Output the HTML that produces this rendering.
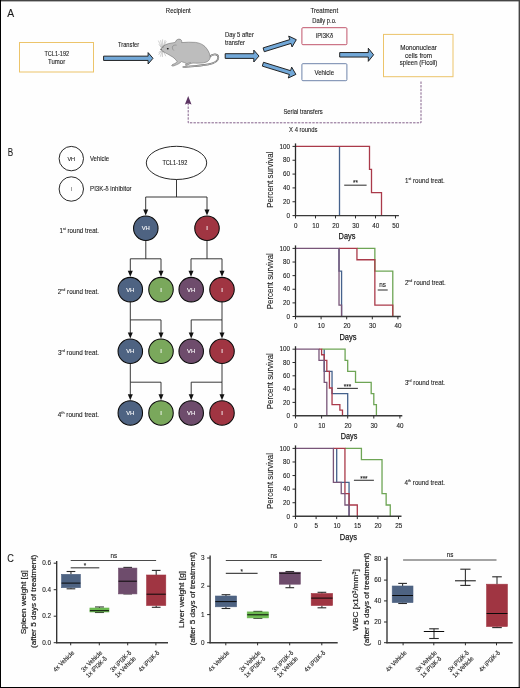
<!DOCTYPE html>
<html><head><meta charset="utf-8"><title>Figure</title>
<style>
html,body{margin:0;padding:0;background:#fefefe;}
body{width:520px;height:688px;overflow:hidden;position:relative;}
svg{position:absolute;left:0;top:0;display:block;will-change:transform;}
text{font-family:"Liberation Sans", sans-serif;stroke-width:0.1px;}
</style></head>
<body>
<svg width="520" height="688" viewBox="0 0 520 688" font-family="Liberation Sans, sans-serif">
<rect x="0" y="0" width="520" height="688" fill="#fefefe"/>
<text x="7.20" y="17.00" font-size="11.5" text-anchor="start" fill="#1a1a1a" textLength="6.90" lengthAdjust="spacingAndGlyphs"  stroke="#1a1a1a">A</text>
<rect x="19.5" y="42.5" width="74" height="29.5" fill="none" stroke="#ecc46a" stroke-width="1"/>
<text x="44.40" y="55.80" font-size="6.3" text-anchor="start" fill="#1a1a1a" textLength="24.70" lengthAdjust="spacingAndGlyphs"  stroke="#1a1a1a">TCL1-192</text>
<text x="48.10" y="63.50" font-size="6.3" text-anchor="start" fill="#1a1a1a" textLength="17.10" lengthAdjust="spacingAndGlyphs"  stroke="#1a1a1a">Tumor</text>
<text x="165.80" y="12.60" font-size="6.6" text-anchor="start" fill="#1a1a1a" textLength="25.00" lengthAdjust="spacingAndGlyphs"  stroke="#1a1a1a">Recipient</text>
<text x="118.00" y="46.60" font-size="6.6" text-anchor="start" fill="#1a1a1a" textLength="21.10" lengthAdjust="spacingAndGlyphs"  stroke="#1a1a1a">Transfer</text>
<text x="224.90" y="37.00" font-size="6.6" text-anchor="start" fill="#1a1a1a" textLength="29.00" lengthAdjust="spacingAndGlyphs"  stroke="#1a1a1a">Day 5 after</text>
<text x="224.90" y="45.00" font-size="6.6" text-anchor="start" fill="#1a1a1a" textLength="20.00" lengthAdjust="spacingAndGlyphs"  stroke="#1a1a1a">transfer</text>
<text x="310.40" y="12.80" font-size="6.6" text-anchor="start" fill="#1a1a1a" textLength="27.70" lengthAdjust="spacingAndGlyphs"  stroke="#1a1a1a">Treatment</text>
<text x="312.30" y="22.80" font-size="6.6" text-anchor="start" fill="#1a1a1a" textLength="24.20" lengthAdjust="spacingAndGlyphs"  stroke="#1a1a1a">Daily p.o.</text>
<path d="M103.6,56.15 L148.1,56.15 L148.1,52.599999999999994 L153.0,58.3 L148.1,64.0 L148.1,60.449999999999996 L103.6,60.449999999999996 Z" stroke="#1a1a1a" fill="#72a8d8" stroke-width="0.95" stroke-linejoin="miter"/>
<path d="M225.2,53.699999999999996 L253.8,53.699999999999996 L253.8,50.099999999999994 L259.0,56.05 L253.8,62.0 L253.8,58.4 L225.2,58.4 Z" stroke="#1a1a1a" fill="#72a8d8" stroke-width="0.95" stroke-linejoin="miter"/>
<path d="M339.7,52.55 L368.3,52.55 L368.3,48.25 L373.6,54.8 L368.3,61.349999999999994 L368.3,57.05 L339.7,57.05 Z" stroke="#1a1a1a" fill="#72a8d8" stroke-width="0.95" stroke-linejoin="miter"/>
<path d="M263.11,47.89 L289.79,39.62 L288.69,36.09 L296.30,39.70 L292.06,46.98 L290.97,43.45 L264.29,51.71 Z" stroke="#1a1a1a" fill="#72a8d8" stroke-width="0.95" />
<path d="M263.49,62.29 L290.57,70.66 L291.66,67.12 L295.90,74.40 L288.29,78.01 L289.39,74.48 L262.31,66.11 Z" stroke="#1a1a1a" fill="#72a8d8" stroke-width="0.95" />
<rect x="301.9" y="27.7" width="45" height="17" rx="1" fill="none" stroke="#c0566c" stroke-width="1"/>
<text x="315.90" y="38.30" font-size="6.3" text-anchor="start" fill="#1a1a1a" textLength="17.30" lengthAdjust="spacingAndGlyphs"  stroke="#1a1a1a">iPI3K&#948;</text>
<rect x="301.9" y="63.7" width="45" height="17" rx="1" fill="none" stroke="#6f84aa" stroke-width="1"/>
<text x="314.40" y="74.70" font-size="6.3" text-anchor="start" fill="#1a1a1a" textLength="19.70" lengthAdjust="spacingAndGlyphs"  stroke="#1a1a1a">Vehicle</text>
<rect x="383.5" y="34.4" width="69.5" height="42.3" fill="none" stroke="#ecc46a" stroke-width="1"/>
<text x="400.30" y="49.80" font-size="6.3" text-anchor="start" fill="#1a1a1a" textLength="36.50" lengthAdjust="spacingAndGlyphs"  stroke="#1a1a1a">Mononuclear</text>
<text x="405.10" y="57.50" font-size="6.3" text-anchor="start" fill="#1a1a1a" textLength="26.90" lengthAdjust="spacingAndGlyphs"  stroke="#1a1a1a">cells from</text>
<text x="399.80" y="64.80" font-size="6.3" text-anchor="start" fill="#1a1a1a" textLength="37.50" lengthAdjust="spacingAndGlyphs"  stroke="#1a1a1a">spleen (Ficoll)</text>
<path d="M421,81.5 L421,122.8 L188.2,122.8 L188.2,103" stroke="#83608a" fill="none" stroke-width="1.0" stroke-dasharray="2.4,1.2"/>
<path d="M188.2,96 L191.5,104.6 L188.2,103.2 L184.9,104.6 Z" stroke="none" fill="#5c3462" stroke-width="1" />
<text x="283.40" y="113.50" font-size="6.6" text-anchor="start" fill="#1a1a1a" textLength="39.40" lengthAdjust="spacingAndGlyphs"  stroke="#1a1a1a">Serial transfers</text>
<text x="289.10" y="131.90" font-size="6.6" text-anchor="start" fill="#1a1a1a" textLength="28.40" lengthAdjust="spacingAndGlyphs"  stroke="#1a1a1a">X 4 rounds</text>
<path d="M209.5,57 C213,53.2 218.4,53.6 218.3,57.8 C218.2,61.3 213.5,63.4 208.5,64.4 C201,65.8 192,66.3 183.3,67" fill="none" stroke="#6a6a6a" stroke-width="1.7" stroke-linecap="round"/>
<path d="M209.5,57 C213,53.2 218.4,53.6 218.3,57.8 C218.2,61.3 213.5,63.4 208.5,64.4 C201,65.8 192,66.3 183.3,67" fill="none" stroke="#bdbdbd" stroke-width="0.9" stroke-linecap="round"/>
<path d="M160.8,49.2 C162,47 165,44.3 168.7,43.6 C171,43.1 173.5,42.6 175.2,42.4 C176,39.6 178.5,38.6 180.2,39.3 C181.6,39.9 182,41.2 181.6,42.6 C186,42.1 191,42.0 195.5,42.4 C199.5,42.9 202.5,44.2 205,46.6 C207.5,49.2 209.6,52.8 210.2,56.2 C210.4,59.4 208.4,62 203.5,62.8 C200,63.3 196,63.3 193,63.1 C192,63.3 191.5,63.4 191,63.4 C190,63.8 189,64.2 188.2,64.7 C187.2,65.3 186.2,65.6 185.5,65.3 C185,64.9 185.6,64.3 186.5,63.8 L184.5,62.6 C183.3,62.2 182,62 181.4,61.6 C180.5,62.4 179.8,63.1 178.6,63.8 C177,64.6 175.6,65.2 174,65.8 C172.8,66.2 171.6,66.1 171.7,65.4 C171.9,64.7 173,64.2 174.3,63.8 C175.6,63.2 176.5,62.4 177.2,61.6 C176,59.8 174.5,58.3 173,57.2 C170.5,55.6 167.5,54 165,52.6 C163,51.6 161.2,50.6 160.8,49.2 Z" fill="#bdbdbd" stroke="#5e5e5e" stroke-width="0.5" stroke-linejoin="round"/>
<path d="M176.6,45.2 C174.6,44.6 172.6,45.4 172.4,47.2 C172.3,48.6 173,49.8 173.8,50.5" fill="none" stroke="#6e6e6e" stroke-width="0.45"/>
<path d="M186.5,63.8 C188,63.2 189.5,62.6 191,62.4" fill="none" stroke="#6e6e6e" stroke-width="0.4"/>
<ellipse cx="167.8" cy="48.7" rx="0.95" ry="0.8" fill="#111"/>
<circle cx="161" cy="49.3" r="0.55" fill="#333"/>
<g stroke="#7a7a7a" stroke-width="0.35" fill="none">
<path d="M161.8,47.6 L158.3,40.6 M162.2,47.6 L160.6,40.2 M162.6,47.6 L162.6,39.4 M162.9,47.8 L165.2,40 M161.6,48 L158.9,44.3 M162.8,48 L166.3,41.2"/>
<path d="M161.8,50.6 L158.6,54.8 M162.2,50.8 L160.4,56.6 M162.7,50.8 L162.4,57 M163.1,50.8 L165.8,56.2 M161.6,50.4 L158.6,52.6"/>
</g>
<text x="7.80" y="155.80" font-size="10.8" text-anchor="start" fill="#1a1a1a" textLength="5.40" lengthAdjust="spacingAndGlyphs"  stroke="#1a1a1a">B</text>
<circle cx="71.3" cy="158.6" r="12.2" fill="#fff" stroke="#111" stroke-width="0.9"/>
<text x="67.40" y="160.70" font-size="6.2" text-anchor="start" fill="#1a1a1a" textLength="7.70" lengthAdjust="spacingAndGlyphs"  stroke="#1a1a1a">VH</text>
<circle cx="71.3" cy="189.0" r="12.2" fill="#fff" stroke="#111" stroke-width="0.9"/>
<text x="70.90" y="191.00" font-size="6.2" text-anchor="start" fill="#1a1a1a" textLength="1.00" lengthAdjust="spacingAndGlyphs"  stroke="#1a1a1a">I</text>
<text x="89.90" y="160.60" font-size="6.6" text-anchor="start" fill="#1a1a1a" textLength="19.20" lengthAdjust="spacingAndGlyphs"  stroke="#1a1a1a">Vehicle</text>
<text x="90.10" y="190.80" font-size="6.6" text-anchor="start" fill="#1a1a1a" textLength="41.50" lengthAdjust="spacingAndGlyphs"  stroke="#1a1a1a">PI3K-&#948; inhibitor</text>
<ellipse cx="176.5" cy="162.9" rx="30.2" ry="16.6" fill="#fff" stroke="#111" stroke-width="0.9"/>
<text x="162.40" y="164.80" font-size="6.4" text-anchor="start" fill="#1a1a1a" textLength="24.90" lengthAdjust="spacingAndGlyphs"  stroke="#1a1a1a">TCL1-192</text>
<line x1="176.50" y1="179.50" x2="176.50" y2="197.00" stroke="#222" stroke-width="0.9" />
<line x1="145.70" y1="197.00" x2="207.00" y2="197.00" stroke="#222" stroke-width="0.9" />
<line x1="145.70" y1="197.00" x2="145.70" y2="210.50" stroke="#222" stroke-width="0.9" />
<path d="M143.2,209.5 L148.2,209.5 L145.7,215.5 Z" stroke="none" fill="#111" stroke-width="1" />
<line x1="207.00" y1="197.00" x2="207.00" y2="210.50" stroke="#222" stroke-width="0.9" />
<path d="M204.5,209.5 L209.5,209.5 L207.0,215.5 Z" stroke="none" fill="#111" stroke-width="1" />
<circle cx="145.8" cy="228.3" r="12.25" fill="#4e6382" stroke="#0a0a0a" stroke-width="1.05"/>
<text x="141.70" y="230.30" font-size="6.0" text-anchor="start" fill="#fff" textLength="8.20" lengthAdjust="spacingAndGlyphs"  stroke="#fff">VH</text>
<circle cx="207.0" cy="228.3" r="12.25" fill="#a03542" stroke="#0a0a0a" stroke-width="1.05"/>
<text x="207.00" y="230.30" font-size="6.0" text-anchor="middle" fill="#fff"  stroke="#fff">I</text>
<line x1="145.80" y1="240.60" x2="145.80" y2="258.80" stroke="#222" stroke-width="0.9" />
<line x1="130.30" y1="258.80" x2="161.00" y2="258.80" stroke="#222" stroke-width="0.9" />
<line x1="207.00" y1="240.60" x2="207.00" y2="258.80" stroke="#222" stroke-width="0.9" />
<line x1="191.00" y1="258.80" x2="222.00" y2="258.80" stroke="#222" stroke-width="0.9" />
<line x1="130.30" y1="258.80" x2="130.30" y2="271.80" stroke="#222" stroke-width="0.9" />
<path d="M127.80000000000001,270.8 L132.8,270.8 L130.3,276.8 Z" stroke="none" fill="#111" stroke-width="1" />
<line x1="161.00" y1="258.80" x2="161.00" y2="271.80" stroke="#222" stroke-width="0.9" />
<path d="M158.5,270.8 L163.5,270.8 L161.0,276.8 Z" stroke="none" fill="#111" stroke-width="1" />
<line x1="191.00" y1="258.80" x2="191.00" y2="271.80" stroke="#222" stroke-width="0.9" />
<path d="M188.5,270.8 L193.5,270.8 L191.0,276.8 Z" stroke="none" fill="#111" stroke-width="1" />
<line x1="222.00" y1="258.80" x2="222.00" y2="271.80" stroke="#222" stroke-width="0.9" />
<path d="M219.5,270.8 L224.5,270.8 L222.0,276.8 Z" stroke="none" fill="#111" stroke-width="1" />
<circle cx="130.3" cy="289.6" r="12.25" fill="#4e6382" stroke="#0a0a0a" stroke-width="1.05"/>
<text x="126.20" y="291.60" font-size="6.0" text-anchor="start" fill="#fff" textLength="8.20" lengthAdjust="spacingAndGlyphs"  stroke="#fff">VH</text>
<circle cx="161.0" cy="289.6" r="12.25" fill="#7aa85c" stroke="#0a0a0a" stroke-width="1.05"/>
<text x="161.00" y="291.60" font-size="6.0" text-anchor="middle" fill="#fff"  stroke="#fff">I</text>
<circle cx="191.2" cy="289.6" r="12.25" fill="#6e4c6c" stroke="#0a0a0a" stroke-width="1.05"/>
<text x="187.10" y="291.60" font-size="6.0" text-anchor="start" fill="#fff" textLength="8.20" lengthAdjust="spacingAndGlyphs"  stroke="#fff">VH</text>
<circle cx="222.0" cy="289.6" r="12.25" fill="#a03542" stroke="#0a0a0a" stroke-width="1.05"/>
<text x="222.00" y="291.60" font-size="6.0" text-anchor="middle" fill="#fff"  stroke="#fff">I</text>
<circle cx="130.3" cy="351.2" r="12.25" fill="#4e6382" stroke="#0a0a0a" stroke-width="1.05"/>
<text x="126.20" y="353.20" font-size="6.0" text-anchor="start" fill="#fff" textLength="8.20" lengthAdjust="spacingAndGlyphs"  stroke="#fff">VH</text>
<circle cx="161.0" cy="351.2" r="12.25" fill="#7aa85c" stroke="#0a0a0a" stroke-width="1.05"/>
<text x="161.00" y="353.20" font-size="6.0" text-anchor="middle" fill="#fff"  stroke="#fff">I</text>
<circle cx="191.2" cy="351.2" r="12.25" fill="#6e4c6c" stroke="#0a0a0a" stroke-width="1.05"/>
<text x="187.10" y="353.20" font-size="6.0" text-anchor="start" fill="#fff" textLength="8.20" lengthAdjust="spacingAndGlyphs"  stroke="#fff">VH</text>
<circle cx="222.0" cy="351.2" r="12.25" fill="#a03542" stroke="#0a0a0a" stroke-width="1.05"/>
<text x="222.00" y="353.20" font-size="6.0" text-anchor="middle" fill="#fff"  stroke="#fff">I</text>
<circle cx="130.3" cy="412.9" r="12.25" fill="#4e6382" stroke="#0a0a0a" stroke-width="1.05"/>
<text x="126.20" y="414.90" font-size="6.0" text-anchor="start" fill="#fff" textLength="8.20" lengthAdjust="spacingAndGlyphs"  stroke="#fff">VH</text>
<circle cx="161.0" cy="412.9" r="12.25" fill="#7aa85c" stroke="#0a0a0a" stroke-width="1.05"/>
<text x="161.00" y="414.90" font-size="6.0" text-anchor="middle" fill="#fff"  stroke="#fff">I</text>
<circle cx="191.2" cy="412.9" r="12.25" fill="#6e4c6c" stroke="#0a0a0a" stroke-width="1.05"/>
<text x="187.10" y="414.90" font-size="6.0" text-anchor="start" fill="#fff" textLength="8.20" lengthAdjust="spacingAndGlyphs"  stroke="#fff">VH</text>
<circle cx="222.0" cy="412.9" r="12.25" fill="#a03542" stroke="#0a0a0a" stroke-width="1.05"/>
<text x="222.00" y="414.90" font-size="6.0" text-anchor="middle" fill="#fff"  stroke="#fff">I</text>
<line x1="130.30" y1="301.90" x2="130.30" y2="319.90" stroke="#222" stroke-width="0.9" />
<line x1="130.30" y1="319.90" x2="161.00" y2="319.90" stroke="#222" stroke-width="0.9" />
<line x1="130.30" y1="319.90" x2="130.30" y2="333.60" stroke="#222" stroke-width="0.9" />
<path d="M127.80000000000001,332.6 L132.8,332.6 L130.3,338.6 Z" stroke="none" fill="#111" stroke-width="1" />
<line x1="161.00" y1="319.90" x2="161.00" y2="333.60" stroke="#222" stroke-width="0.9" />
<path d="M158.5,332.6 L163.5,332.6 L161.0,338.6 Z" stroke="none" fill="#111" stroke-width="1" />
<line x1="222.00" y1="301.90" x2="222.00" y2="319.90" stroke="#222" stroke-width="0.9" />
<line x1="191.20" y1="319.90" x2="222.00" y2="319.90" stroke="#222" stroke-width="0.9" />
<line x1="191.20" y1="319.90" x2="191.20" y2="333.60" stroke="#222" stroke-width="0.9" />
<path d="M188.7,332.6 L193.7,332.6 L191.2,338.6 Z" stroke="none" fill="#111" stroke-width="1" />
<line x1="222.00" y1="319.90" x2="222.00" y2="333.60" stroke="#222" stroke-width="0.9" />
<path d="M219.5,332.6 L224.5,332.6 L222.0,338.6 Z" stroke="none" fill="#111" stroke-width="1" />
<line x1="130.30" y1="363.50" x2="130.30" y2="382.20" stroke="#222" stroke-width="0.9" />
<line x1="130.30" y1="382.20" x2="161.00" y2="382.20" stroke="#222" stroke-width="0.9" />
<line x1="130.30" y1="382.20" x2="130.30" y2="395.20" stroke="#222" stroke-width="0.9" />
<path d="M127.80000000000001,394.2 L132.8,394.2 L130.3,400.2 Z" stroke="none" fill="#111" stroke-width="1" />
<line x1="161.00" y1="382.20" x2="161.00" y2="395.20" stroke="#222" stroke-width="0.9" />
<path d="M158.5,394.2 L163.5,394.2 L161.0,400.2 Z" stroke="none" fill="#111" stroke-width="1" />
<line x1="222.00" y1="363.50" x2="222.00" y2="382.20" stroke="#222" stroke-width="0.9" />
<line x1="191.20" y1="382.20" x2="222.00" y2="382.20" stroke="#222" stroke-width="0.9" />
<line x1="191.20" y1="382.20" x2="191.20" y2="395.20" stroke="#222" stroke-width="0.9" />
<path d="M188.7,394.2 L193.7,394.2 L191.2,400.2 Z" stroke="none" fill="#111" stroke-width="1" />
<line x1="222.00" y1="382.20" x2="222.00" y2="395.20" stroke="#222" stroke-width="0.9" />
<path d="M219.5,394.2 L224.5,394.2 L222.0,400.2 Z" stroke="none" fill="#111" stroke-width="1" />
<text x="59.6" y="232.8" font-size="6.9" fill="#1a1a1a" textLength="39.40" lengthAdjust="spacingAndGlyphs" stroke="#1a1a1a">1<tspan font-size="4.0" dy="-3.0">st</tspan><tspan dy="3.0"> round treat.</tspan></text>
<text x="57.8" y="293.8" font-size="6.9" fill="#1a1a1a" textLength="41.20" lengthAdjust="spacingAndGlyphs" stroke="#1a1a1a">2<tspan font-size="4.0" dy="-3.0">nd</tspan><tspan dy="3.0"> round treat.</tspan></text>
<text x="58.0" y="355.4" font-size="6.9" fill="#1a1a1a" textLength="41.00" lengthAdjust="spacingAndGlyphs" stroke="#1a1a1a">3<tspan font-size="4.0" dy="-3.0">rd</tspan><tspan dy="3.0"> round treat.</tspan></text>
<text x="57.8" y="417.0" font-size="6.9" fill="#1a1a1a" textLength="41.20" lengthAdjust="spacingAndGlyphs" stroke="#1a1a1a">4<tspan font-size="4.0" dy="-3.0">th</tspan><tspan dy="3.0"> round treat.</tspan></text>
<path d="M339.50,146.40 L339.50,146.40 L339.50,215.60" stroke="#45628c" fill="none" stroke-width="1.3" stroke-linejoin="miter" stroke-linecap="butt"/>
<path d="M295.50,146.40 L369.50,146.40 L369.50,169.46 L371.50,169.46 L371.50,192.54 L381.50,192.54 L381.50,215.60" stroke="#aa3a4a" fill="none" stroke-width="1.3" stroke-linejoin="miter" stroke-linecap="butt"/>
<line x1="295.50" y1="143.40" x2="295.50" y2="216.30" stroke="#2a2a2a" stroke-width="1.3" />
<line x1="294.90" y1="215.60" x2="398.90" y2="215.60" stroke="#3a3a3a" stroke-width="1.4" />
<line x1="292.50" y1="215.60" x2="295.50" y2="215.60" stroke="#2a2a2a" stroke-width="1.0" />
<text x="290.10" y="217.80" font-size="6.3" text-anchor="end" fill="#1a1a1a"  stroke="#1a1a1a">0</text>
<line x1="292.50" y1="201.76" x2="295.50" y2="201.76" stroke="#2a2a2a" stroke-width="1.0" />
<text x="290.10" y="203.96" font-size="6.3" text-anchor="end" fill="#1a1a1a"  stroke="#1a1a1a">20</text>
<line x1="292.50" y1="187.92" x2="295.50" y2="187.92" stroke="#2a2a2a" stroke-width="1.0" />
<text x="290.10" y="190.12" font-size="6.3" text-anchor="end" fill="#1a1a1a"  stroke="#1a1a1a">40</text>
<line x1="292.50" y1="174.08" x2="295.50" y2="174.08" stroke="#2a2a2a" stroke-width="1.0" />
<text x="290.10" y="176.28" font-size="6.3" text-anchor="end" fill="#1a1a1a"  stroke="#1a1a1a">60</text>
<line x1="292.50" y1="160.24" x2="295.50" y2="160.24" stroke="#2a2a2a" stroke-width="1.0" />
<text x="290.10" y="162.44" font-size="6.3" text-anchor="end" fill="#1a1a1a"  stroke="#1a1a1a">80</text>
<line x1="292.50" y1="146.40" x2="295.50" y2="146.40" stroke="#2a2a2a" stroke-width="1.0" />
<text x="290.10" y="148.60" font-size="6.3" text-anchor="end" fill="#1a1a1a"  stroke="#1a1a1a">100</text>
<line x1="295.50" y1="215.60" x2="295.50" y2="218.40" stroke="#2a2a2a" stroke-width="1.0" />
<text x="295.70" y="227.50" font-size="6.3" text-anchor="middle" fill="#1a1a1a"  stroke="#1a1a1a">0</text>
<line x1="315.50" y1="215.60" x2="315.50" y2="218.40" stroke="#2a2a2a" stroke-width="1.0" />
<text x="315.70" y="227.50" font-size="6.3" text-anchor="middle" fill="#1a1a1a"  stroke="#1a1a1a">10</text>
<line x1="335.50" y1="215.60" x2="335.50" y2="218.40" stroke="#2a2a2a" stroke-width="1.0" />
<text x="335.70" y="227.50" font-size="6.3" text-anchor="middle" fill="#1a1a1a"  stroke="#1a1a1a">20</text>
<line x1="355.50" y1="215.60" x2="355.50" y2="218.40" stroke="#2a2a2a" stroke-width="1.0" />
<text x="355.70" y="227.50" font-size="6.3" text-anchor="middle" fill="#1a1a1a"  stroke="#1a1a1a">30</text>
<line x1="375.50" y1="215.60" x2="375.50" y2="218.40" stroke="#2a2a2a" stroke-width="1.0" />
<text x="375.70" y="227.50" font-size="6.3" text-anchor="middle" fill="#1a1a1a"  stroke="#1a1a1a">40</text>
<line x1="395.50" y1="215.60" x2="395.50" y2="218.40" stroke="#2a2a2a" stroke-width="1.0" />
<text x="395.70" y="227.50" font-size="6.3" text-anchor="middle" fill="#1a1a1a"  stroke="#1a1a1a">50</text>
<text transform="translate(273.2,179.70) rotate(-90)" font-size="8.6" text-anchor="middle" fill="#1a1a1a" textLength="56" lengthAdjust="spacingAndGlyphs" stroke="#1a1a1a">Percent survival</text>
<text x="338.60" y="239.20" font-size="9.0" text-anchor="start" fill="#1a1a1a" textLength="16.80" lengthAdjust="spacingAndGlyphs" style="stroke-width:0.25px" stroke="#1a1a1a">Days</text>
<line x1="344.20" y1="185.20" x2="366.60" y2="185.20" stroke="#444" stroke-width="1.15" />
<text x="355.40" y="185.30" font-size="6.3" text-anchor="middle" fill="#1a1a1a"  stroke="#1a1a1a">**</text>
<text x="405.0" y="182.9" font-size="6.9" fill="#1a1a1a" textLength="39.80" lengthAdjust="spacingAndGlyphs" stroke="#1a1a1a">1<tspan font-size="4.0" dy="-3.0">st</tspan><tspan dy="3.0"> round treat.</tspan></text>
<path d="M356.94,248.40 L374.86,248.40 L374.86,271.10 L392.78,271.10 L392.78,316.50" stroke="#6ea555" fill="none" stroke-width="1.3" stroke-linejoin="miter" stroke-linecap="butt"/>
<path d="M339.02,248.40 L339.02,248.40 L339.02,271.10 L341.58,271.10 L341.58,316.50" stroke="#45628c" fill="none" stroke-width="1.3" stroke-linejoin="miter" stroke-linecap="butt"/>
<path d="M339.02,248.40 L356.94,248.40 L356.94,259.75 L374.86,259.75 L374.86,305.15 L392.78,305.15 L392.78,316.50" stroke="#aa3a4a" fill="none" stroke-width="1.3" stroke-linejoin="miter" stroke-linecap="butt"/>
<path d="M295.50,248.40 L339.02,248.40 L339.02,305.15 L341.58,305.15 L341.58,316.50" stroke="#785578" fill="none" stroke-width="1.3" stroke-linejoin="miter" stroke-linecap="butt"/>
<line x1="295.50" y1="245.40" x2="295.50" y2="317.20" stroke="#2a2a2a" stroke-width="1.3" />
<line x1="294.90" y1="316.50" x2="400.80" y2="316.50" stroke="#3a3a3a" stroke-width="1.4" />
<line x1="292.50" y1="316.50" x2="295.50" y2="316.50" stroke="#2a2a2a" stroke-width="1.0" />
<text x="290.10" y="318.70" font-size="6.3" text-anchor="end" fill="#1a1a1a"  stroke="#1a1a1a">0</text>
<line x1="292.50" y1="302.88" x2="295.50" y2="302.88" stroke="#2a2a2a" stroke-width="1.0" />
<text x="290.10" y="305.08" font-size="6.3" text-anchor="end" fill="#1a1a1a"  stroke="#1a1a1a">20</text>
<line x1="292.50" y1="289.26" x2="295.50" y2="289.26" stroke="#2a2a2a" stroke-width="1.0" />
<text x="290.10" y="291.46" font-size="6.3" text-anchor="end" fill="#1a1a1a"  stroke="#1a1a1a">40</text>
<line x1="292.50" y1="275.64" x2="295.50" y2="275.64" stroke="#2a2a2a" stroke-width="1.0" />
<text x="290.10" y="277.84" font-size="6.3" text-anchor="end" fill="#1a1a1a"  stroke="#1a1a1a">60</text>
<line x1="292.50" y1="262.02" x2="295.50" y2="262.02" stroke="#2a2a2a" stroke-width="1.0" />
<text x="290.10" y="264.22" font-size="6.3" text-anchor="end" fill="#1a1a1a"  stroke="#1a1a1a">80</text>
<line x1="292.50" y1="248.40" x2="295.50" y2="248.40" stroke="#2a2a2a" stroke-width="1.0" />
<text x="290.10" y="250.60" font-size="6.3" text-anchor="end" fill="#1a1a1a"  stroke="#1a1a1a">100</text>
<line x1="295.50" y1="316.50" x2="295.50" y2="319.30" stroke="#2a2a2a" stroke-width="1.0" />
<text x="295.70" y="328.40" font-size="6.3" text-anchor="middle" fill="#1a1a1a"  stroke="#1a1a1a">0</text>
<line x1="321.10" y1="316.50" x2="321.10" y2="319.30" stroke="#2a2a2a" stroke-width="1.0" />
<text x="321.30" y="328.40" font-size="6.3" text-anchor="middle" fill="#1a1a1a"  stroke="#1a1a1a">10</text>
<line x1="346.70" y1="316.50" x2="346.70" y2="319.30" stroke="#2a2a2a" stroke-width="1.0" />
<text x="346.90" y="328.40" font-size="6.3" text-anchor="middle" fill="#1a1a1a"  stroke="#1a1a1a">20</text>
<line x1="372.30" y1="316.50" x2="372.30" y2="319.30" stroke="#2a2a2a" stroke-width="1.0" />
<text x="372.50" y="328.40" font-size="6.3" text-anchor="middle" fill="#1a1a1a"  stroke="#1a1a1a">30</text>
<line x1="397.90" y1="316.50" x2="397.90" y2="319.30" stroke="#2a2a2a" stroke-width="1.0" />
<text x="398.10" y="328.40" font-size="6.3" text-anchor="middle" fill="#1a1a1a"  stroke="#1a1a1a">40</text>
<text transform="translate(273.2,281.15) rotate(-90)" font-size="8.6" text-anchor="middle" fill="#1a1a1a" textLength="56" lengthAdjust="spacingAndGlyphs" stroke="#1a1a1a">Percent survival</text>
<text x="339.40" y="340.40" font-size="9.0" text-anchor="start" fill="#1a1a1a" textLength="17.10" lengthAdjust="spacingAndGlyphs" style="stroke-width:0.25px" stroke="#1a1a1a">Days</text>
<line x1="377.70" y1="290.00" x2="387.70" y2="290.00" stroke="#444" stroke-width="1.15" />
<text x="382.70" y="287.00" font-size="6.3" text-anchor="middle" fill="#1a1a1a"  stroke="#1a1a1a">ns</text>
<text x="404.9" y="284.6" font-size="6.9" fill="#1a1a1a" textLength="40.90" lengthAdjust="spacingAndGlyphs" stroke="#1a1a1a">2<tspan font-size="4.0" dy="-3.0">nd</tspan><tspan dy="3.0"> round treat.</tspan></text>
<path d="M324.21,349.20 L324.21,349.20 L324.21,371.36 L332.04,371.36 L332.04,393.54 L347.70,393.54 L347.70,415.70" stroke="#45628c" fill="none" stroke-width="1.3" stroke-linejoin="miter" stroke-linecap="butt"/>
<path d="M321.60,349.20 L345.09,349.20 L345.09,360.29 L347.70,360.29 L347.70,371.36 L355.53,371.36 L355.53,382.45 L371.19,382.45 L371.19,393.54 L373.80,393.54 L373.80,404.61 L376.41,404.61 L376.41,415.70" stroke="#6ea555" fill="none" stroke-width="1.3" stroke-linejoin="miter" stroke-linecap="butt"/>
<path d="M318.99,349.20 L321.60,349.20 L321.60,354.74 L324.21,354.74 L324.21,360.29 L326.82,360.29 L326.82,371.36 L329.43,371.36 L329.43,387.99 L332.04,387.99 L332.04,404.61 L339.87,404.61 L339.87,410.16 L342.48,410.16 L342.48,415.70" stroke="#aa3a4a" fill="none" stroke-width="1.3" stroke-linejoin="miter" stroke-linecap="butt"/>
<path d="M295.50,349.20 L318.99,349.20 L318.99,360.29 L324.21,360.29 L324.21,382.45 L326.82,382.45 L326.82,415.70" stroke="#785578" fill="none" stroke-width="1.3" stroke-linejoin="miter" stroke-linecap="butt"/>
<line x1="295.50" y1="346.20" x2="295.50" y2="416.40" stroke="#2a2a2a" stroke-width="1.3" />
<line x1="294.90" y1="415.70" x2="402.30" y2="415.70" stroke="#3a3a3a" stroke-width="1.4" />
<line x1="292.50" y1="415.70" x2="295.50" y2="415.70" stroke="#2a2a2a" stroke-width="1.0" />
<text x="290.10" y="417.90" font-size="6.3" text-anchor="end" fill="#1a1a1a"  stroke="#1a1a1a">0</text>
<line x1="292.50" y1="402.40" x2="295.50" y2="402.40" stroke="#2a2a2a" stroke-width="1.0" />
<text x="290.10" y="404.60" font-size="6.3" text-anchor="end" fill="#1a1a1a"  stroke="#1a1a1a">20</text>
<line x1="292.50" y1="389.10" x2="295.50" y2="389.10" stroke="#2a2a2a" stroke-width="1.0" />
<text x="290.10" y="391.30" font-size="6.3" text-anchor="end" fill="#1a1a1a"  stroke="#1a1a1a">40</text>
<line x1="292.50" y1="375.80" x2="295.50" y2="375.80" stroke="#2a2a2a" stroke-width="1.0" />
<text x="290.10" y="378.00" font-size="6.3" text-anchor="end" fill="#1a1a1a"  stroke="#1a1a1a">60</text>
<line x1="292.50" y1="362.50" x2="295.50" y2="362.50" stroke="#2a2a2a" stroke-width="1.0" />
<text x="290.10" y="364.70" font-size="6.3" text-anchor="end" fill="#1a1a1a"  stroke="#1a1a1a">80</text>
<line x1="292.50" y1="349.20" x2="295.50" y2="349.20" stroke="#2a2a2a" stroke-width="1.0" />
<text x="290.10" y="351.40" font-size="6.3" text-anchor="end" fill="#1a1a1a"  stroke="#1a1a1a">100</text>
<line x1="295.50" y1="415.70" x2="295.50" y2="418.50" stroke="#2a2a2a" stroke-width="1.0" />
<text x="295.70" y="427.60" font-size="6.3" text-anchor="middle" fill="#1a1a1a"  stroke="#1a1a1a">0</text>
<line x1="321.60" y1="415.70" x2="321.60" y2="418.50" stroke="#2a2a2a" stroke-width="1.0" />
<text x="321.80" y="427.60" font-size="6.3" text-anchor="middle" fill="#1a1a1a"  stroke="#1a1a1a">10</text>
<line x1="347.70" y1="415.70" x2="347.70" y2="418.50" stroke="#2a2a2a" stroke-width="1.0" />
<text x="347.90" y="427.60" font-size="6.3" text-anchor="middle" fill="#1a1a1a"  stroke="#1a1a1a">20</text>
<line x1="373.80" y1="415.70" x2="373.80" y2="418.50" stroke="#2a2a2a" stroke-width="1.0" />
<text x="374.00" y="427.60" font-size="6.3" text-anchor="middle" fill="#1a1a1a"  stroke="#1a1a1a">30</text>
<line x1="399.90" y1="415.70" x2="399.90" y2="418.50" stroke="#2a2a2a" stroke-width="1.0" />
<text x="400.10" y="427.60" font-size="6.3" text-anchor="middle" fill="#1a1a1a"  stroke="#1a1a1a">40</text>
<text transform="translate(273.2,381.15) rotate(-90)" font-size="8.6" text-anchor="middle" fill="#1a1a1a" textLength="56" lengthAdjust="spacingAndGlyphs" stroke="#1a1a1a">Percent survival</text>
<text x="340.80" y="439.20" font-size="9.0" text-anchor="start" fill="#1a1a1a" textLength="16.50" lengthAdjust="spacingAndGlyphs" style="stroke-width:0.25px" stroke="#1a1a1a">Days</text>
<line x1="337.10" y1="388.40" x2="357.90" y2="388.40" stroke="#444" stroke-width="1.15" />
<text x="347.50" y="388.60" font-size="6.3" text-anchor="middle" fill="#1a1a1a"  stroke="#1a1a1a">***</text>
<text x="404.9" y="384.6" font-size="6.9" fill="#1a1a1a" textLength="40.20" lengthAdjust="spacingAndGlyphs" stroke="#1a1a1a">3<tspan font-size="4.0" dy="-3.0">rd</tspan><tspan dy="3.0"> round treat.</tspan></text>
<path d="M336.70,448.40 L336.70,448.40 L336.70,482.35 L349.06,482.35 L349.06,516.30" stroke="#45628c" fill="none" stroke-width="1.3" stroke-linejoin="miter" stroke-linecap="butt"/>
<path d="M344.94,448.40 L361.42,448.40 L361.42,459.72 L382.02,459.72 L382.02,493.67 L386.14,493.67 L386.14,504.98 L390.26,504.98 L390.26,516.30" stroke="#6ea555" fill="none" stroke-width="1.3" stroke-linejoin="miter" stroke-linecap="butt"/>
<path d="M333.40,448.40 L344.94,448.40 L344.94,493.67 L349.06,493.67 L349.06,504.98 L357.30,504.98 L357.30,516.30" stroke="#aa3a4a" fill="none" stroke-width="1.3" stroke-linejoin="miter" stroke-linecap="butt"/>
<path d="M295.50,448.40 L333.40,448.40 L333.40,482.35 L341.23,482.35 L341.23,493.67 L344.94,493.67 L344.94,504.98 L349.06,504.98 L349.06,516.30" stroke="#785578" fill="none" stroke-width="1.3" stroke-linejoin="miter" stroke-linecap="butt"/>
<line x1="295.50" y1="445.40" x2="295.50" y2="517.00" stroke="#2a2a2a" stroke-width="1.3" />
<line x1="294.90" y1="516.30" x2="401.50" y2="516.30" stroke="#3a3a3a" stroke-width="1.4" />
<line x1="292.50" y1="516.30" x2="295.50" y2="516.30" stroke="#2a2a2a" stroke-width="1.0" />
<text x="290.10" y="518.50" font-size="6.3" text-anchor="end" fill="#1a1a1a"  stroke="#1a1a1a">0</text>
<line x1="292.50" y1="502.72" x2="295.50" y2="502.72" stroke="#2a2a2a" stroke-width="1.0" />
<text x="290.10" y="504.92" font-size="6.3" text-anchor="end" fill="#1a1a1a"  stroke="#1a1a1a">20</text>
<line x1="292.50" y1="489.14" x2="295.50" y2="489.14" stroke="#2a2a2a" stroke-width="1.0" />
<text x="290.10" y="491.34" font-size="6.3" text-anchor="end" fill="#1a1a1a"  stroke="#1a1a1a">40</text>
<line x1="292.50" y1="475.56" x2="295.50" y2="475.56" stroke="#2a2a2a" stroke-width="1.0" />
<text x="290.10" y="477.76" font-size="6.3" text-anchor="end" fill="#1a1a1a"  stroke="#1a1a1a">60</text>
<line x1="292.50" y1="461.98" x2="295.50" y2="461.98" stroke="#2a2a2a" stroke-width="1.0" />
<text x="290.10" y="464.18" font-size="6.3" text-anchor="end" fill="#1a1a1a"  stroke="#1a1a1a">80</text>
<line x1="292.50" y1="448.40" x2="295.50" y2="448.40" stroke="#2a2a2a" stroke-width="1.0" />
<text x="290.10" y="450.60" font-size="6.3" text-anchor="end" fill="#1a1a1a"  stroke="#1a1a1a">100</text>
<line x1="295.50" y1="516.30" x2="295.50" y2="519.10" stroke="#2a2a2a" stroke-width="1.0" />
<text x="295.70" y="528.20" font-size="6.3" text-anchor="middle" fill="#1a1a1a"  stroke="#1a1a1a">0</text>
<line x1="316.10" y1="516.30" x2="316.10" y2="519.10" stroke="#2a2a2a" stroke-width="1.0" />
<text x="316.30" y="528.20" font-size="6.3" text-anchor="middle" fill="#1a1a1a"  stroke="#1a1a1a">5</text>
<line x1="336.70" y1="516.30" x2="336.70" y2="519.10" stroke="#2a2a2a" stroke-width="1.0" />
<text x="336.90" y="528.20" font-size="6.3" text-anchor="middle" fill="#1a1a1a"  stroke="#1a1a1a">10</text>
<line x1="357.30" y1="516.30" x2="357.30" y2="519.10" stroke="#2a2a2a" stroke-width="1.0" />
<text x="357.50" y="528.20" font-size="6.3" text-anchor="middle" fill="#1a1a1a"  stroke="#1a1a1a">15</text>
<line x1="377.90" y1="516.30" x2="377.90" y2="519.10" stroke="#2a2a2a" stroke-width="1.0" />
<text x="378.10" y="528.20" font-size="6.3" text-anchor="middle" fill="#1a1a1a"  stroke="#1a1a1a">20</text>
<line x1="398.50" y1="516.30" x2="398.50" y2="519.10" stroke="#2a2a2a" stroke-width="1.0" />
<text x="398.70" y="528.20" font-size="6.3" text-anchor="middle" fill="#1a1a1a"  stroke="#1a1a1a">25</text>
<text transform="translate(273.2,481.05) rotate(-90)" font-size="8.6" text-anchor="middle" fill="#1a1a1a" textLength="56" lengthAdjust="spacingAndGlyphs" stroke="#1a1a1a">Percent survival</text>
<text x="339.80" y="539.60" font-size="9.0" text-anchor="start" fill="#1a1a1a" textLength="17.10" lengthAdjust="spacingAndGlyphs" style="stroke-width:0.25px" stroke="#1a1a1a">Days</text>
<line x1="353.90" y1="480.30" x2="373.90" y2="480.30" stroke="#444" stroke-width="1.15" />
<text x="363.90" y="480.60" font-size="6.3" text-anchor="middle" fill="#1a1a1a"  stroke="#1a1a1a">***</text>
<text x="404.5" y="484.6" font-size="6.9" fill="#1a1a1a" textLength="40.40" lengthAdjust="spacingAndGlyphs" stroke="#1a1a1a">4<tspan font-size="4.0" dy="-3.0">th</tspan><tspan dy="3.0"> round treat.</tspan></text>
<text x="7.20" y="561.80" font-size="11.4" text-anchor="start" fill="#1a1a1a" textLength="6.60" lengthAdjust="spacingAndGlyphs"  stroke="#1a1a1a">C</text>
<line x1="56.70" y1="561.00" x2="56.70" y2="643.30" stroke="#2a2a2a" stroke-width="1.3" />
<line x1="56.10" y1="642.70" x2="168.00" y2="642.70" stroke="#3a3a3a" stroke-width="1.4" />
<line x1="53.70" y1="642.70" x2="56.70" y2="642.70" stroke="#2a2a2a" stroke-width="1.0" />
<text x="51.10" y="644.90" font-size="6.4" text-anchor="end" fill="#1a1a1a"  stroke="#1a1a1a">0.0</text>
<line x1="53.70" y1="616.20" x2="56.70" y2="616.20" stroke="#2a2a2a" stroke-width="1.0" />
<text x="51.10" y="618.40" font-size="6.4" text-anchor="end" fill="#1a1a1a"  stroke="#1a1a1a">0.2</text>
<line x1="53.70" y1="589.70" x2="56.70" y2="589.70" stroke="#2a2a2a" stroke-width="1.0" />
<text x="51.10" y="591.90" font-size="6.4" text-anchor="end" fill="#1a1a1a"  stroke="#1a1a1a">0.4</text>
<line x1="53.70" y1="563.20" x2="56.70" y2="563.20" stroke="#2a2a2a" stroke-width="1.0" />
<text x="51.10" y="565.40" font-size="6.4" text-anchor="end" fill="#1a1a1a"  stroke="#1a1a1a">0.6</text>
<line x1="70.70" y1="642.70" x2="70.70" y2="645.30" stroke="#2a2a2a" stroke-width="1.0" />
<line x1="99.30" y1="642.70" x2="99.30" y2="645.30" stroke="#2a2a2a" stroke-width="1.0" />
<line x1="127.70" y1="642.70" x2="127.70" y2="645.30" stroke="#2a2a2a" stroke-width="1.0" />
<line x1="155.90" y1="642.70" x2="155.90" y2="645.30" stroke="#2a2a2a" stroke-width="1.0" />
<line x1="70.95" y1="571.50" x2="70.95" y2="574.30" stroke="#333" stroke-width="1.1" />
<line x1="70.95" y1="587.70" x2="70.95" y2="588.80" stroke="#333" stroke-width="1.1" />
<line x1="66.60" y1="571.50" x2="75.30" y2="571.50" stroke="#2a2a2a" stroke-width="1.1" />
<line x1="66.60" y1="588.80" x2="75.30" y2="588.80" stroke="#2a2a2a" stroke-width="1.1" />
<rect x="61.50" y="574.30" width="18.90" height="13.40" fill="#4e6382" stroke="#4e6382" stroke-width="0.6"/>
<line x1="61.50" y1="583.10" x2="80.40" y2="583.10" stroke="#0a0a0a" stroke-width="1.0" />
<line x1="99.45" y1="607.00" x2="99.45" y2="608.00" stroke="#333" stroke-width="1.1" />
<line x1="99.45" y1="612.00" x2="99.45" y2="612.50" stroke="#333" stroke-width="1.1" />
<line x1="94.95" y1="607.00" x2="103.95" y2="607.00" stroke="#2a2a2a" stroke-width="1.1" />
<line x1="94.95" y1="612.50" x2="103.95" y2="612.50" stroke="#2a2a2a" stroke-width="1.1" />
<rect x="89.90" y="608.00" width="19.10" height="4.00" fill="#6cba50" stroke="#6cba50" stroke-width="0.6"/>
<line x1="89.90" y1="610.70" x2="109.00" y2="610.70" stroke="#0a0a0a" stroke-width="1.0" />
<line x1="127.70" y1="567.40" x2="127.70" y2="568.10" stroke="#333" stroke-width="1.1" />
<line x1="127.70" y1="593.90" x2="127.70" y2="593.90" stroke="#333" stroke-width="1.1" />
<line x1="123.35" y1="567.40" x2="132.05" y2="567.40" stroke="#2a2a2a" stroke-width="1.1" />
<line x1="123.35" y1="593.90" x2="132.05" y2="593.90" stroke="#2a2a2a" stroke-width="1.1" />
<rect x="118.50" y="568.10" width="18.40" height="25.80" fill="#6e4c6c" stroke="#6e4c6c" stroke-width="0.6"/>
<line x1="118.50" y1="581.20" x2="136.90" y2="581.20" stroke="#0a0a0a" stroke-width="1.0" />
<line x1="156.20" y1="570.40" x2="156.20" y2="575.00" stroke="#333" stroke-width="1.1" />
<line x1="156.20" y1="605.50" x2="156.20" y2="607.30" stroke="#333" stroke-width="1.1" />
<line x1="151.85" y1="570.40" x2="160.55" y2="570.40" stroke="#2a2a2a" stroke-width="1.1" />
<line x1="151.85" y1="607.30" x2="160.55" y2="607.30" stroke="#2a2a2a" stroke-width="1.1" />
<rect x="146.60" y="575.00" width="19.20" height="30.50" fill="#a03542" stroke="#a03542" stroke-width="0.6"/>
<line x1="146.60" y1="594.20" x2="165.80" y2="594.20" stroke="#0a0a0a" stroke-width="1.0" />
<line x1="70.70" y1="560.50" x2="156.10" y2="560.50" stroke="#4a4a4a" stroke-width="1.2" />
<text x="113.80" y="557.60" font-size="6.3" text-anchor="middle" fill="#1a1a1a"  stroke="#1a1a1a">ns</text>
<line x1="70.70" y1="567.80" x2="99.30" y2="567.80" stroke="#4a4a4a" stroke-width="1.2" />
<text x="85.00" y="568.00" font-size="6.3" text-anchor="middle" fill="#1a1a1a"  stroke="#1a1a1a">*</text>
<text transform="translate(25.6,602.2) rotate(-90)" font-size="7.8" text-anchor="middle" fill="#1a1a1a" style="stroke-width:0.18px" textLength="64.2" lengthAdjust="spacingAndGlyphs" stroke="#1a1a1a">Spleen weight [g]</text>
<text transform="translate(36.0,601.4) rotate(-90)" font-size="7.8" text-anchor="middle" fill="#1a1a1a" style="stroke-width:0.18px" textLength="93.2" lengthAdjust="spacingAndGlyphs" stroke="#1a1a1a">(after 5 days of treatment)</text>
<line x1="210.10" y1="555.40" x2="210.10" y2="643.30" stroke="#2a2a2a" stroke-width="1.3" />
<line x1="209.50" y1="642.70" x2="337.70" y2="642.70" stroke="#3a3a3a" stroke-width="1.4" />
<line x1="207.10" y1="642.70" x2="210.10" y2="642.70" stroke="#2a2a2a" stroke-width="1.0" />
<text x="204.50" y="644.90" font-size="6.4" text-anchor="end" fill="#1a1a1a"  stroke="#1a1a1a">0</text>
<line x1="207.10" y1="614.60" x2="210.10" y2="614.60" stroke="#2a2a2a" stroke-width="1.0" />
<text x="204.50" y="616.80" font-size="6.4" text-anchor="end" fill="#1a1a1a"  stroke="#1a1a1a">1</text>
<line x1="207.10" y1="586.20" x2="210.10" y2="586.20" stroke="#2a2a2a" stroke-width="1.0" />
<text x="204.50" y="588.40" font-size="6.4" text-anchor="end" fill="#1a1a1a"  stroke="#1a1a1a">2</text>
<line x1="207.10" y1="558.00" x2="210.10" y2="558.00" stroke="#2a2a2a" stroke-width="1.0" />
<text x="204.50" y="560.20" font-size="6.4" text-anchor="end" fill="#1a1a1a"  stroke="#1a1a1a">3</text>
<line x1="225.80" y1="642.70" x2="225.80" y2="645.30" stroke="#2a2a2a" stroke-width="1.0" />
<line x1="257.60" y1="642.70" x2="257.60" y2="645.30" stroke="#2a2a2a" stroke-width="1.0" />
<line x1="289.70" y1="642.70" x2="289.70" y2="645.30" stroke="#2a2a2a" stroke-width="1.0" />
<line x1="321.80" y1="642.70" x2="321.80" y2="645.30" stroke="#2a2a2a" stroke-width="1.0" />
<line x1="225.95" y1="594.70" x2="225.95" y2="596.00" stroke="#333" stroke-width="1.1" />
<line x1="225.95" y1="606.80" x2="225.95" y2="608.50" stroke="#333" stroke-width="1.1" />
<line x1="221.60" y1="594.70" x2="230.30" y2="594.70" stroke="#2a2a2a" stroke-width="1.1" />
<line x1="221.60" y1="608.50" x2="230.30" y2="608.50" stroke="#2a2a2a" stroke-width="1.1" />
<rect x="215.30" y="596.00" width="21.30" height="10.80" fill="#4e6382" stroke="#4e6382" stroke-width="0.6"/>
<line x1="215.30" y1="601.60" x2="236.60" y2="601.60" stroke="#0a0a0a" stroke-width="1.0" />
<line x1="257.85" y1="611.40" x2="257.85" y2="611.90" stroke="#333" stroke-width="1.1" />
<line x1="257.85" y1="617.90" x2="257.85" y2="618.30" stroke="#333" stroke-width="1.1" />
<line x1="253.35" y1="611.40" x2="262.35" y2="611.40" stroke="#2a2a2a" stroke-width="1.1" />
<line x1="253.35" y1="618.30" x2="262.35" y2="618.30" stroke="#2a2a2a" stroke-width="1.1" />
<rect x="247.20" y="611.90" width="21.30" height="6.00" fill="#6cba50" stroke="#6cba50" stroke-width="0.6"/>
<line x1="247.20" y1="614.80" x2="268.50" y2="614.80" stroke="#0a0a0a" stroke-width="1.0" />
<line x1="289.80" y1="571.50" x2="289.80" y2="572.20" stroke="#333" stroke-width="1.1" />
<line x1="289.80" y1="584.20" x2="289.80" y2="587.70" stroke="#333" stroke-width="1.1" />
<line x1="285.45" y1="571.50" x2="294.15" y2="571.50" stroke="#2a2a2a" stroke-width="1.1" />
<line x1="285.45" y1="587.70" x2="294.15" y2="587.70" stroke="#2a2a2a" stroke-width="1.1" />
<rect x="279.30" y="572.20" width="21.00" height="12.00" fill="#6e4c6c" stroke="#6e4c6c" stroke-width="0.6"/>
<line x1="279.30" y1="573.20" x2="300.30" y2="573.20" stroke="#0a0a0a" stroke-width="1.0" />
<line x1="321.90" y1="592.30" x2="321.90" y2="593.50" stroke="#333" stroke-width="1.1" />
<line x1="321.90" y1="605.50" x2="321.90" y2="607.80" stroke="#333" stroke-width="1.1" />
<line x1="317.55" y1="592.30" x2="326.25" y2="592.30" stroke="#2a2a2a" stroke-width="1.1" />
<line x1="317.55" y1="607.80" x2="326.25" y2="607.80" stroke="#2a2a2a" stroke-width="1.1" />
<rect x="311.20" y="593.50" width="21.40" height="12.00" fill="#a03542" stroke="#a03542" stroke-width="0.6"/>
<line x1="311.20" y1="598.10" x2="332.60" y2="598.10" stroke="#0a0a0a" stroke-width="1.0" />
<line x1="225.80" y1="560.50" x2="321.80" y2="560.50" stroke="#4a4a4a" stroke-width="1.2" />
<text x="273.80" y="557.60" font-size="6.3" text-anchor="middle" fill="#1a1a1a"  stroke="#1a1a1a">ns</text>
<line x1="225.80" y1="573.40" x2="257.60" y2="573.40" stroke="#4a4a4a" stroke-width="1.2" />
<text x="241.80" y="573.60" font-size="6.3" text-anchor="middle" fill="#1a1a1a"  stroke="#1a1a1a">*</text>
<text transform="translate(184.2,599.4) rotate(-90)" font-size="7.8" text-anchor="middle" fill="#1a1a1a" style="stroke-width:0.18px" textLength="57.2" lengthAdjust="spacingAndGlyphs" stroke="#1a1a1a">Liver weight [g]</text>
<text transform="translate(194.9,598.8) rotate(-90)" font-size="7.8" text-anchor="middle" fill="#1a1a1a" style="stroke-width:0.18px" textLength="93.3" lengthAdjust="spacingAndGlyphs" stroke="#1a1a1a">(after 5 days of treatment)</text>
<line x1="387.00" y1="556.80" x2="387.00" y2="643.30" stroke="#2a2a2a" stroke-width="1.3" />
<line x1="386.40" y1="642.70" x2="512.70" y2="642.70" stroke="#3a3a3a" stroke-width="1.4" />
<line x1="384.00" y1="642.70" x2="387.00" y2="642.70" stroke="#2a2a2a" stroke-width="1.0" />
<text x="381.40" y="644.90" font-size="6.4" text-anchor="end" fill="#1a1a1a"  stroke="#1a1a1a">0</text>
<line x1="384.00" y1="622.00" x2="387.00" y2="622.00" stroke="#2a2a2a" stroke-width="1.0" />
<text x="381.40" y="624.20" font-size="6.4" text-anchor="end" fill="#1a1a1a"  stroke="#1a1a1a">20</text>
<line x1="384.00" y1="600.90" x2="387.00" y2="600.90" stroke="#2a2a2a" stroke-width="1.0" />
<text x="381.40" y="603.10" font-size="6.4" text-anchor="end" fill="#1a1a1a"  stroke="#1a1a1a">40</text>
<line x1="384.00" y1="580.10" x2="387.00" y2="580.10" stroke="#2a2a2a" stroke-width="1.0" />
<text x="381.40" y="582.30" font-size="6.4" text-anchor="end" fill="#1a1a1a"  stroke="#1a1a1a">60</text>
<line x1="384.00" y1="559.20" x2="387.00" y2="559.20" stroke="#2a2a2a" stroke-width="1.0" />
<text x="381.40" y="561.40" font-size="6.4" text-anchor="end" fill="#1a1a1a"  stroke="#1a1a1a">80</text>
<line x1="403.10" y1="642.70" x2="403.10" y2="645.30" stroke="#2a2a2a" stroke-width="1.0" />
<line x1="433.80" y1="642.70" x2="433.80" y2="645.30" stroke="#2a2a2a" stroke-width="1.0" />
<line x1="465.40" y1="642.70" x2="465.40" y2="645.30" stroke="#2a2a2a" stroke-width="1.0" />
<line x1="496.50" y1="642.70" x2="496.50" y2="645.30" stroke="#2a2a2a" stroke-width="1.0" />
<line x1="402.60" y1="583.40" x2="402.60" y2="586.00" stroke="#333" stroke-width="1.1" />
<line x1="402.60" y1="602.60" x2="402.60" y2="603.50" stroke="#333" stroke-width="1.1" />
<line x1="398.25" y1="583.40" x2="406.95" y2="583.40" stroke="#2a2a2a" stroke-width="1.1" />
<line x1="398.25" y1="603.50" x2="406.95" y2="603.50" stroke="#2a2a2a" stroke-width="1.1" />
<rect x="392.20" y="586.00" width="20.80" height="16.60" fill="#4e6382" stroke="#4e6382" stroke-width="0.6"/>
<line x1="392.20" y1="595.50" x2="413.00" y2="595.50" stroke="#0a0a0a" stroke-width="1.0" />
<line x1="434.00" y1="628.80" x2="434.00" y2="631.50" stroke="#333" stroke-width="1.1" />
<line x1="434.00" y1="631.50" x2="434.00" y2="638.50" stroke="#333" stroke-width="1.1" />
<line x1="429.20" y1="628.80" x2="438.80" y2="628.80" stroke="#2a2a2a" stroke-width="1.1" />
<line x1="429.20" y1="638.50" x2="438.80" y2="638.50" stroke="#2a2a2a" stroke-width="1.1" />
<line x1="423.80" y1="631.50" x2="444.20" y2="631.50" stroke="#0a0a0a" stroke-width="1.0" />
<line x1="465.40" y1="569.20" x2="465.40" y2="580.80" stroke="#333" stroke-width="1.1" />
<line x1="465.40" y1="580.80" x2="465.40" y2="585.40" stroke="#333" stroke-width="1.1" />
<line x1="460.30" y1="569.20" x2="470.50" y2="569.20" stroke="#2a2a2a" stroke-width="1.1" />
<line x1="460.30" y1="585.40" x2="470.50" y2="585.40" stroke="#2a2a2a" stroke-width="1.1" />
<line x1="455.00" y1="580.80" x2="475.80" y2="580.80" stroke="#0a0a0a" stroke-width="1.0" />
<line x1="497.00" y1="576.80" x2="497.00" y2="584.20" stroke="#333" stroke-width="1.1" />
<line x1="497.00" y1="626.50" x2="497.00" y2="627.60" stroke="#333" stroke-width="1.1" />
<line x1="492.20" y1="576.80" x2="501.80" y2="576.80" stroke="#2a2a2a" stroke-width="1.1" />
<line x1="492.20" y1="627.60" x2="501.80" y2="627.60" stroke="#2a2a2a" stroke-width="1.1" />
<rect x="486.60" y="584.20" width="20.80" height="42.30" fill="#a03542" stroke="#a03542" stroke-width="0.6"/>
<line x1="486.60" y1="613.50" x2="507.40" y2="613.50" stroke="#0a0a0a" stroke-width="1.0" />
<line x1="403.10" y1="560.00" x2="496.50" y2="560.00" stroke="#4a4a4a" stroke-width="1.2" />
<text x="450.00" y="557.20" font-size="6.3" text-anchor="middle" fill="#1a1a1a"  stroke="#1a1a1a">ns</text>
<text transform="translate(358.4,600.0) rotate(-90)" font-size="7.8" text-anchor="middle" fill="#1a1a1a" style="stroke-width:0.18px" textLength="61.6" lengthAdjust="spacingAndGlyphs" stroke="#1a1a1a">WBC [x10<tspan font-size="5" dy="-2.6">3</tspan><tspan dy="2.6">/mm</tspan><tspan font-size="5" dy="-2.6">3</tspan><tspan dy="2.6">]</tspan></text>
<text transform="translate(368.8,599.4) rotate(-90)" font-size="7.8" text-anchor="middle" fill="#1a1a1a" style="stroke-width:0.18px" textLength="93.2" lengthAdjust="spacingAndGlyphs" stroke="#1a1a1a">(after 5 days of treatment)</text>
<text transform="translate(74.70,653.20) rotate(-45) translate(0.00,0.00)" font-size="6.5" text-anchor="end" fill="#1a1a1a" textLength="26.8" lengthAdjust="spacingAndGlyphs" stroke="#1a1a1a">4x Vehicle</text>
<text transform="translate(102.70,653.20) rotate(-45) translate(0.00,0.00)" font-size="6.5" text-anchor="end" fill="#1a1a1a" textLength="26.8" lengthAdjust="spacingAndGlyphs" stroke="#1a1a1a">3x Vehicle</text>
<text transform="translate(102.70,653.20) rotate(-45) translate(-0.80,7.40)" font-size="6.5" text-anchor="end" fill="#1a1a1a" textLength="26.8" lengthAdjust="spacingAndGlyphs" stroke="#1a1a1a">1x iPI3K-&#948;</text>
<text transform="translate(131.70,653.20) rotate(-45) translate(0.00,0.00)" font-size="6.5" text-anchor="end" fill="#1a1a1a" textLength="26.8" lengthAdjust="spacingAndGlyphs" stroke="#1a1a1a">3x iPI3K-&#948;</text>
<text transform="translate(131.70,653.20) rotate(-45) translate(-0.80,7.40)" font-size="6.5" text-anchor="end" fill="#1a1a1a" textLength="26.8" lengthAdjust="spacingAndGlyphs" stroke="#1a1a1a">1x Vehicle</text>
<text transform="translate(159.90,653.20) rotate(-45) translate(0.00,0.00)" font-size="6.5" text-anchor="end" fill="#1a1a1a" textLength="26.8" lengthAdjust="spacingAndGlyphs" stroke="#1a1a1a">4x iPI3K-&#948;</text>
<text transform="translate(229.80,653.20) rotate(-45) translate(0.00,0.00)" font-size="6.5" text-anchor="end" fill="#1a1a1a" textLength="26.8" lengthAdjust="spacingAndGlyphs" stroke="#1a1a1a">4x Vehicle</text>
<text transform="translate(261.00,653.20) rotate(-45) translate(0.00,0.00)" font-size="6.5" text-anchor="end" fill="#1a1a1a" textLength="26.8" lengthAdjust="spacingAndGlyphs" stroke="#1a1a1a">3x Vehicle</text>
<text transform="translate(261.00,653.20) rotate(-45) translate(-0.80,7.40)" font-size="6.5" text-anchor="end" fill="#1a1a1a" textLength="26.8" lengthAdjust="spacingAndGlyphs" stroke="#1a1a1a">1x iPI3K-&#948;</text>
<text transform="translate(293.70,653.20) rotate(-45) translate(0.00,0.00)" font-size="6.5" text-anchor="end" fill="#1a1a1a" textLength="26.8" lengthAdjust="spacingAndGlyphs" stroke="#1a1a1a">3x iPI3K-&#948;</text>
<text transform="translate(293.70,653.20) rotate(-45) translate(-0.80,7.40)" font-size="6.5" text-anchor="end" fill="#1a1a1a" textLength="26.8" lengthAdjust="spacingAndGlyphs" stroke="#1a1a1a">1x Vehicle</text>
<text transform="translate(325.80,653.20) rotate(-45) translate(0.00,0.00)" font-size="6.5" text-anchor="end" fill="#1a1a1a" textLength="26.8" lengthAdjust="spacingAndGlyphs" stroke="#1a1a1a">4x iPI3K-&#948;</text>
<text transform="translate(407.10,653.20) rotate(-45) translate(0.00,0.00)" font-size="6.5" text-anchor="end" fill="#1a1a1a" textLength="26.8" lengthAdjust="spacingAndGlyphs" stroke="#1a1a1a">4x Vehicle</text>
<text transform="translate(437.20,653.20) rotate(-45) translate(0.00,0.00)" font-size="6.5" text-anchor="end" fill="#1a1a1a" textLength="26.8" lengthAdjust="spacingAndGlyphs" stroke="#1a1a1a">3x Vehicle</text>
<text transform="translate(437.20,653.20) rotate(-45) translate(-0.80,7.40)" font-size="6.5" text-anchor="end" fill="#1a1a1a" textLength="26.8" lengthAdjust="spacingAndGlyphs" stroke="#1a1a1a">1x iPI3K-&#948;</text>
<text transform="translate(469.40,653.20) rotate(-45) translate(0.00,0.00)" font-size="6.5" text-anchor="end" fill="#1a1a1a" textLength="26.8" lengthAdjust="spacingAndGlyphs" stroke="#1a1a1a">3x iPI3K-&#948;</text>
<text transform="translate(469.40,653.20) rotate(-45) translate(-0.80,7.40)" font-size="6.5" text-anchor="end" fill="#1a1a1a" textLength="26.8" lengthAdjust="spacingAndGlyphs" stroke="#1a1a1a">1x Vehicle</text>
<text transform="translate(500.50,653.20) rotate(-45) translate(0.00,0.00)" font-size="6.5" text-anchor="end" fill="#1a1a1a" textLength="26.8" lengthAdjust="spacingAndGlyphs" stroke="#1a1a1a">4x iPI3K-&#948;</text>
<rect x="0" y="0" width="520" height="1.4" fill="#444"/>
<rect x="518.6" y="0" width="1.4" height="688" fill="#444"/>
<rect x="0" y="0" width="1" height="688" fill="#000"/>
<rect x="0" y="687" width="520" height="1" fill="#000"/>
</svg>
</body></html>
